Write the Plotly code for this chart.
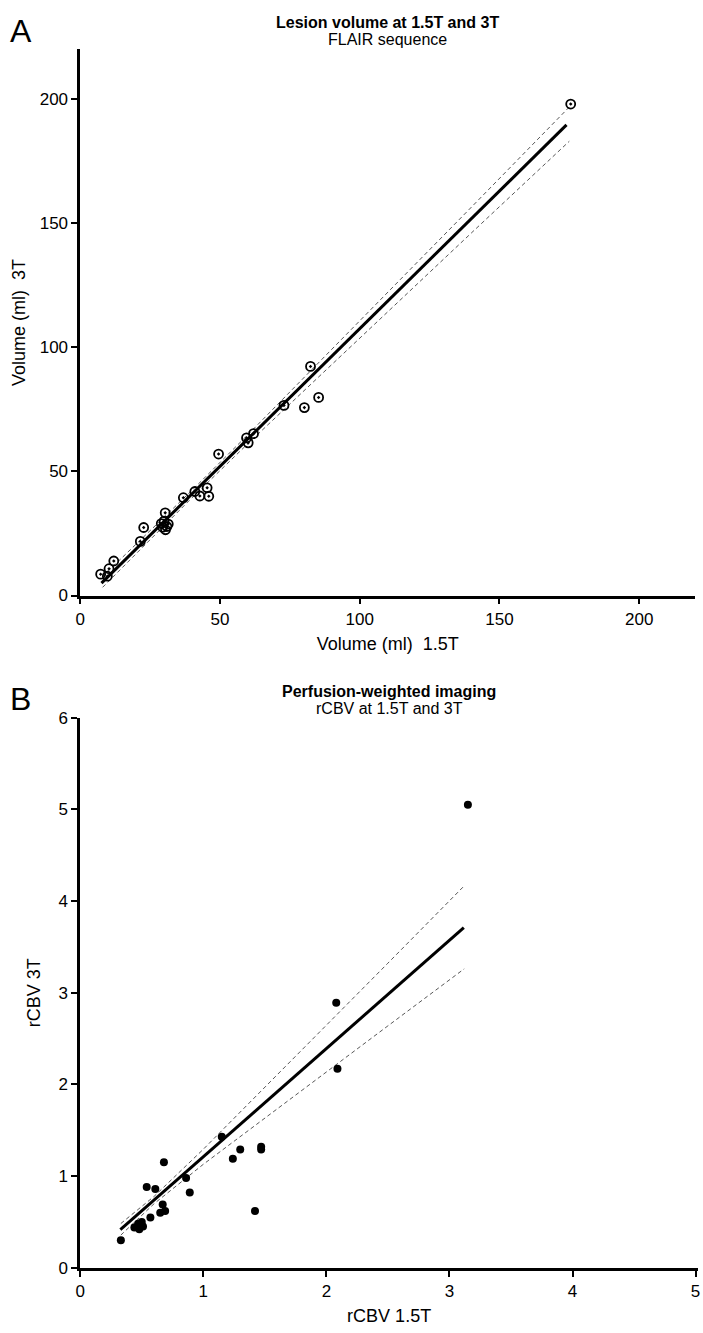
import plotly.graph_objects as go

# ---------------- Panel A data: lesion volume (ml) ----------------
vol_15t = [7.3, 9.7, 10.3, 12.0, 21.5, 22.7, 29.0, 29.5, 30.0, 30.5, 31.0, 31.5, 30.4,
           36.9, 41.0, 42.8, 45.4, 46.0, 49.5, 59.5, 60.1, 62.0, 72.9, 80.2, 82.4, 85.3, 175.5]
vol_3t = [8.6, 7.8, 10.8, 13.9, 21.8, 27.4, 29.0, 27.5, 30.0, 26.5, 27.8, 28.8, 33.3,
          39.4, 41.9, 40.1, 43.4, 40.0, 57.0, 63.5, 61.5, 65.2, 76.6, 75.7, 92.3, 79.8, 198.0]
# regression line and 95% band
fitA_x = [7.6, 174.0]
fitA_y = [5.0, 189.6]
bandA_x = [8, 25, 40, 60, 100, 140, 175]
bandA_upper = [7.7, 26.0, 42.4, 64.8, 110.5, 156.5, 196.8]
bandA_lower = [3.3, 22.6, 39.4, 61.2, 103.8, 146.1, 183.0]
ticksA = [0, 50, 100, 150, 200]

# ---------------- Panel B data: rCBV ----------------
rcbv_15t = [0.33, 0.44, 0.47, 0.50, 0.51, 0.48, 0.57, 0.65, 0.69, 0.67, 0.61, 0.54,
            0.68, 0.86, 0.89, 1.15, 1.24, 1.30, 1.47, 1.47, 1.42, 2.08, 2.09, 3.15]
rcbv_3t = [0.30, 0.44, 0.48, 0.50, 0.45, 0.42, 0.55, 0.60, 0.62, 0.69, 0.86, 0.88,
           1.15, 0.98, 0.82, 1.43, 1.19, 1.29, 1.32, 1.29, 0.62, 2.89, 2.17, 5.05]
fitB_x = [0.326, 3.117]
fitB_y = [0.416, 3.71]
bandB_x = [0.33, 0.6, 1.0, 1.5, 2.0, 2.5, 3.12]
bandB_upper = [0.483, 0.779, 1.293, 1.967, 2.645, 3.323, 4.166]
bandB_lower = [0.357, 0.699, 1.129, 1.635, 2.137, 2.639, 3.261]
ticksBx = [0, 1, 2, 3, 4, 5]
ticksBy = [0, 1, 2, 3, 4, 5, 6]

FONT = "Liberation Sans, Arial, Helvetica, sans-serif"
W, H = 703, 1333

def px_x(p):
    return p / W

def px_y(p):
    return 1 - p / H

BAND = dict(color="#444444", width=0.9, dash="4px,3px")

fig = go.Figure()

# Panel A
fig.add_trace(go.Scatter(x=bandA_x, y=bandA_upper, mode="lines", line=BAND,
                         xaxis="x", yaxis="y", showlegend=False, hoverinfo="skip"))
fig.add_trace(go.Scatter(x=bandA_x, y=bandA_lower, mode="lines", line=BAND,
                         xaxis="x", yaxis="y", showlegend=False, hoverinfo="skip"))
fig.add_trace(go.Scatter(x=fitA_x, y=fitA_y, mode="lines",
                         line=dict(color="black", width=3),
                         xaxis="x", yaxis="y", showlegend=False))
fig.add_trace(go.Scatter(x=vol_15t, y=vol_3t, mode="markers",
                         marker=dict(symbol="circle-open-dot", size=9, color="black",
                                     line=dict(width=1.8, color="black")),
                         xaxis="x", yaxis="y", showlegend=False))

# Panel B
fig.add_trace(go.Scatter(x=bandB_x, y=bandB_upper, mode="lines", line=BAND,
                         xaxis="x2", yaxis="y2", showlegend=False, hoverinfo="skip"))
fig.add_trace(go.Scatter(x=bandB_x, y=bandB_lower, mode="lines", line=BAND,
                         xaxis="x2", yaxis="y2", showlegend=False, hoverinfo="skip"))
fig.add_trace(go.Scatter(x=fitB_x, y=fitB_y, mode="lines",
                         line=dict(color="black", width=3),
                         xaxis="x2", yaxis="y2", showlegend=False))
fig.add_trace(go.Scatter(x=rcbv_15t, y=rcbv_3t, mode="markers",
                         marker=dict(symbol="circle", size=8, color="black"),
                         xaxis="x2", yaxis="y2", showlegend=False))

axis_common = dict(showline=True, linecolor="black", linewidth=2.5, ticks="outside",
                   ticklen=6, tickwidth=2, tickcolor="black", showgrid=False,
                   zeroline=False, tickfont=dict(family=FONT, size=17, color="black"),
                   mirror=False)

fig.update_layout(
    width=W, height=H, autosize=False,
    margin=dict(l=0, r=0, t=0, b=0),
    paper_bgcolor="white", plot_bgcolor="white",
    font=dict(family=FONT, color="black"),
    xaxis=dict(axis_common, domain=[px_x(76), px_x(697)], range=[0, 220],
               tickvals=ticksA, anchor="y",
               title=dict(text="Volume (ml)\u00a0 1.5T", font=dict(size=18), standoff=10)),
    yaxis=dict(axis_common, domain=[px_y(595), px_y(41)], range=[0, 220],
               tickvals=ticksA, anchor="x",
               title=dict(text="Volume (ml)\u00a0 3T", font=dict(size=18), standoff=10)),
    xaxis2=dict(axis_common, domain=[px_x(76), px_x(700)], range=[0, 5.02],
                tickvals=ticksBx, anchor="y2",
                title=dict(text="rCBV 1.5T", font=dict(size=18), standoff=10)),
    yaxis2=dict(axis_common, domain=[px_y(1277), px_y(719)], range=[0, 6],
                tickvals=ticksBy, anchor="x2",
                title=dict(text="rCBV 3T", font=dict(size=18), standoff=14)),
)

cxA = px_x((76 + 697) / 2)
cxB = px_x((76 + 700) / 2)
annotations = [
    dict(text="A", x=px_x(3), y=px_y(2), xanchor="left", yanchor="top", font=dict(size=32)),
    dict(text="<b>Lesion volume at 1.5T and 3T</b>", x=cxA, y=px_y(3), xanchor="center",
         yanchor="top", font=dict(size=16)),
    dict(text="FLAIR sequence", x=cxA, y=px_y(20), xanchor="center", yanchor="top",
         font=dict(size=16)),
    dict(text="B", x=px_x(3), y=px_y(680), xanchor="left", yanchor="top", font=dict(size=32)),
    dict(text="<b>Perfusion-weighted imaging</b>", x=cxB, y=px_y(682), xanchor="center",
         yanchor="top", font=dict(size=16)),
    dict(text="rCBV at 1.5T and 3T", x=cxB, y=px_y(699), xanchor="center", yanchor="top",
         font=dict(size=16)),
]
for a in annotations:
    a.update(xref="paper", yref="paper", showarrow=False)
    a["font"].update(family=FONT, color="black")
fig.update_layout(annotations=annotations)

fig.write_html("out.html", config={"displayModeBar": False},
               post_script="document.body.style.margin='0';document.body.style.overflow='hidden';")
